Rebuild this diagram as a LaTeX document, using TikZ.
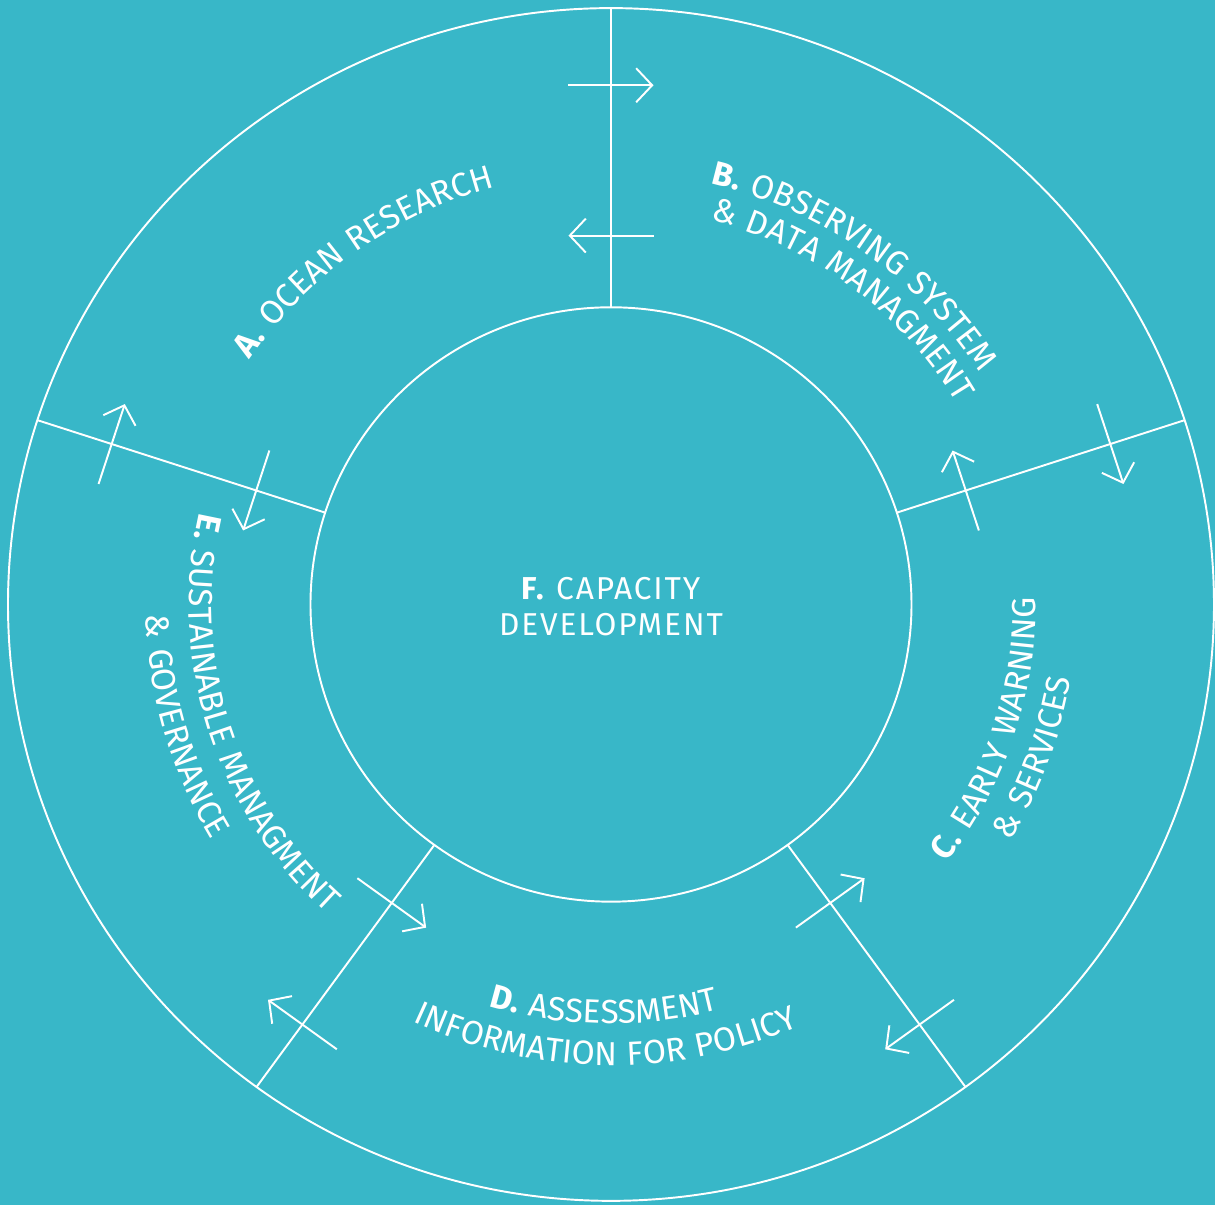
\documentclass[tikz,border=0pt]{standalone}
\usepackage{fontspec}
\setmainfont{Fira Sans}[LetterSpace=6]
\usetikzlibrary{arrows.meta, decorations.text}
\definecolor{oceanteal}{RGB}{56,183,200}

\begin{document}
\begin{tikzpicture}[x=1cm, y=0.989cm, line width=0.55pt, white,
	flow/.style={-{Straight Barb[length=1.6mm, width=3.4mm]}},
	arctext/.style={decorate, decoration={text along path, text color=white, text align=center, text={#1}}}]
	\fontsize{9.5}{11}\selectfont
	\fill[oceanteal] (-6.11cm,-6.005cm) rectangle (6.04cm,6.045cm);
	\useasboundingbox (-6.11cm,-6.005cm) rectangle (6.04cm,6.045cm);
	\draw (0,0) circle[radius=6.03];
	\draw (0,0) circle[radius=3.005];
	\node[align=center, font=\fontsize{9}{10.3}\selectfont] (F) at (0,-0.02) {\textbf{F.} CAPACITY\\DEVELOPMENT};
	\foreach \a [count=\i] in {90,18,-54,-126,162}{
		\coordinate (in\i) at (\a:3.005);
		\coordinate (out\i) at (\a:6.03);
		\draw (in\i) -- (out\i);
		\coordinate (po\i) at (\a:5.25);
		\coordinate (pi\i) at (\a:3.73);
		\draw[flow] (po\i) ++(\a+90:0.425) -- ++(\a-90:0.85);
		\draw[flow] (pi\i) ++(\a-90:0.425) -- ++(\a+90:0.85);
	}
	\path[arctext={|\bfseries|A.|\mdseries| OCEAN RESEARCH}] (160.5:4.38) arc[start angle=160.5, end angle=90.5, radius=4.38];
	\path[arctext={|\bfseries|B.|\mdseries| OBSERVING SYSTEM}] (94.5:4.37) arc[start angle=94.5, end angle=14.5, radius=4.37];
	\path[arctext={{\&} DATA MANAGMENT}] (93:4.01) arc[start angle=93, end angle=13, radius=4.01];
	\path[arctext={|\bfseries|C.|\mdseries| EARLY WARNING}] (-58.4:4.25) arc[start angle=-58.4, end angle=21.6, radius=4.25];
	\path[arctext={{\&} SERVICES}] (-60:4.66) arc[start angle=-60, end angle=20, radius=4.66];
	\path[arctext={|\bfseries|D.|\mdseries| ASSESSMENT}] (-131:4.24) arc[start angle=-131, end angle=-51, radius=4.24];
	\path[arctext={INFORMATION FOR POLICY}] (-130.7:4.66) arc[start angle=-130.7, end angle=-50.7, radius=4.66];
	\path[arctext={|\bfseries|E.|\mdseries| SUSTAINABLE MANAGMENT}] (157.5:4.22) arc[start angle=157.5, end angle=237.5, radius=4.22];
	\path[arctext={{\&} GOVERNANCE}] (156:4.65) arc[start angle=156, end angle=236, radius=4.65];
\end{tikzpicture}
\end{document}
